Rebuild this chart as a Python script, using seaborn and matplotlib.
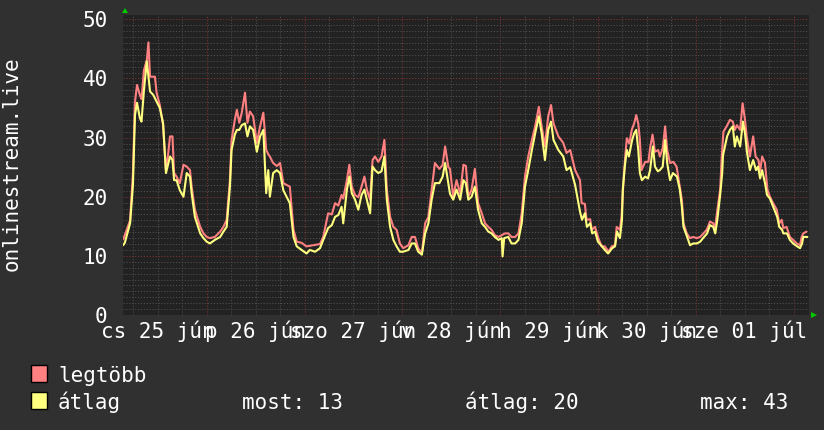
import numpy as np
import pandas as pd
import matplotlib
matplotlib.use("Agg")
import matplotlib.pyplot as plt
from matplotlib.patches import Rectangle, Polygon
from matplotlib.transforms import blended_transform_factory
import seaborn as sns

# ---- data (hours since 2020-06-25 00:00) ----
max_hours = [3.5, 3.9, 5.2, 5.9, 6.4, 6.9, 7.6, 8.0, 8.6, 9.3, 9.7, 10.1, 11.3, 11.7, 12.5, 13.3,
             14.0, 14.5, 15.0, 15.6, 16.0, 16.6, 17.4, 18.3, 19.1, 19.9, 20.3, 21.1, 22.4, 23.2,
             24.0, 24.8, 26.0, 27.3, 28.1, 28.9, 29.7, 30.1, 30.9, 31.4, 32.0, 32.6, 33.4, 34.0,
             34.6, 35.4, 36.3, 37.1, 37.9, 38.6, 39.1, 39.5, 40.3, 41.2, 42.0, 42.8, 43.6, 44.4,
             45.3, 46.1, 47.3, 48.5, 50.2, 51.8, 52.6, 53.8, 54.7, 55.5, 56.3, 57.1, 57.5, 58.4,
             59.0, 59.6, 60.4, 61.2, 62.0, 62.7, 63.3, 64.1, 64.7, 65.3, 66.1, 66.9, 67.6, 68.2,
             69.0, 69.8, 70.6, 71.4, 72.2, 73.5, 74.3, 75.1, 75.9, 76.8, 77.6, 78.4, 79.2, 80.0,
             81.1, 81.9, 82.5, 83.3, 83.7, 84.5, 85.3, 86.2, 87.0, 87.6, 88.2, 89.0, 89.8, 90.6,
             91.5, 92.3, 93.1, 93.9, 94.7, 95.6, 96.4, 97.2, 98.0, 98.8, 99.7, 100.5, 101.3, 102.1,
             102.9, 103.8, 104.6, 105.5, 106.2, 107.0, 107.8, 108.5, 109.1, 110.3, 111.5, 112.3,
             113.2, 114.4, 115.6, 116.0, 116.8, 117.2, 118.1, 118.5, 119.3, 120.1, 120.9, 121.7,
             122.6, 123.4, 124.2, 124.6, 125.4, 125.8, 126.2, 126.7, 127.1, 127.7, 128.3, 128.9,
             129.4, 129.9, 130.3, 130.7, 131.6, 132.4, 132.8, 133.4, 134.0, 134.8, 135.2, 135.9,
             136.5, 137.0, 137.7, 138.5, 139.3, 140.1, 140.6, 141.0, 141.8, 142.6, 143.4, 144.2,
             145.1, 145.9, 146.7, 147.5, 148.3, 148.7, 149.2, 150.0, 150.4, 150.8, 151.6, 152.4,
             153.1, 153.6, 154.1, 154.9, 155.5, 156.1, 156.5, 157.3, 158.1, 158.7, 159.4, 159.8,
             160.3, 161.0, 161.6, 162.2, 163.0, 163.9, 164.5, 165.1, 165.5, 166.3, 167.1, 167.9,
             168.8, 169.6, 170.0, 170.4, 171.2]
max_values = [12.8, 13.5, 16.0, 24.0, 36.0, 38.9, 37.2, 36.5, 41.4, 43.1, 46.1, 40.3, 40.3, 37.6, 35.5, 32.1,
              24.5, 27.0, 30.2, 30.2, 24.0, 23.4, 22.3, 25.4, 25.1, 24.5, 21.7, 17.8, 14.9, 13.8,
              13.2, 13.0, 13.2, 14.1, 14.9, 16.1, 22.8, 29.6, 33.0, 34.7, 32.5, 34.2, 37.6, 32.5,
              34.4, 33.6, 29.1, 31.9, 34.2, 27.9, 27.2, 26.8, 25.7, 25.2, 25.7, 22.3, 22.0, 21.7,
              14.4, 12.4, 12.2, 11.6, 11.8, 12.0, 13.2, 17.2, 17.0, 18.9, 18.5, 20.3, 19.7, 22.8,
              25.4, 21.7, 20.3, 19.9, 21.7, 23.4, 21.2, 19.5, 26.2, 26.8, 25.9, 26.8, 29.6, 21.2,
              16.6, 14.9, 14.4, 12.1, 11.3, 11.8, 13.2, 13.2, 11.3, 10.4, 15.5, 16.6, 21.2, 25.7,
              24.7, 25.4, 28.5, 25.0, 24.7, 20.0, 22.8, 20.5, 25.4, 25.2, 20.0, 21.2, 24.7, 18.9,
              17.2, 15.5, 14.9, 14.4, 13.5, 13.2, 13.5, 13.8, 13.8, 13.2, 13.2, 13.8, 17.2, 23.4,
              26.8, 29.6, 31.9, 35.2, 31.9, 28.5, 33.6, 35.5, 32.4, 30.2, 29.1, 27.4,
              27.9, 24.5, 22.8, 18.9, 18.8, 16.1, 16.2, 14.4, 14.9, 13.0, 11.6, 11.6,
              10.7, 11.6, 11.8, 14.9, 14.4, 16.6, 21.7, 26.8, 29.9, 29.0, 31.3, 32.4,
              33.8, 32.4, 29.6, 24.5, 25.9, 25.9, 28.2, 30.5, 27.6, 27.9, 26.8, 28.2,
              31.9, 27.9, 25.7, 25.9, 25.1, 21.7, 19.5, 15.5, 13.8, 13.0, 13.2, 13.0,
              13.2, 13.8, 14.4, 15.8, 15.5, 14.4, 17.2, 21.2, 26.8, 31.0, 31.9, 33.0,
              32.7, 31.3, 32.1, 31.3, 35.8, 33.0, 30.2, 26.8, 30.2, 26.8, 26.2, 24.3,
              26.8, 25.7, 21.2, 20.0, 18.9, 17.8, 15.5, 16.1, 14.7, 14.9, 13.2, 12.7,
              12.1, 11.8, 13.2, 13.8, 14.1]

avg_hours = [3.5, 3.9, 5.2, 5.9, 6.4, 6.9, 7.6, 8.0, 8.6, 9.3, 10.1, 10.9, 11.7, 12.5, 13.3, 14.0,
             15.0, 15.6, 16.0, 16.6, 17.4, 18.3, 19.1, 19.9, 20.3, 21.1, 22.4, 23.2, 24.0, 24.8,
             26.0, 27.3, 28.1, 28.9, 29.7, 30.1, 30.9, 31.4, 32.0, 32.6, 33.4, 34.0, 34.6, 35.4,
             36.3, 37.1, 37.9, 38.6, 39.1, 39.5, 40.3, 41.2, 42.0, 42.8, 43.6, 44.4, 45.3, 46.1,
             47.3, 48.5, 49.3, 50.6, 51.8, 52.6, 53.8, 54.7, 55.5, 56.3, 57.1, 57.5, 58.4, 59.0,
             59.6, 60.4, 61.2, 62.0, 62.7, 63.3, 64.1, 64.7, 65.3, 66.1, 66.9, 67.6, 68.2, 69.0,
             69.8, 70.6, 71.4, 72.2, 73.5, 74.3, 75.1, 75.9, 76.8, 77.6, 78.4, 79.2, 80.0, 81.1,
             81.9, 82.5, 83.3, 83.7, 84.5, 85.3, 86.2, 87.0, 87.6, 88.2, 89.0, 89.8, 90.6, 91.5,
             92.3, 93.1, 93.9, 94.7, 95.6, 96.4, 96.6, 97.0, 98.0, 98.8, 99.7, 100.5, 101.3, 102.1,
             102.9, 103.8, 104.6, 105.5, 106.2, 107.0, 107.8, 108.5, 109.1, 110.3, 111.5, 112.3,
             113.2, 114.4, 115.6, 116.1, 116.8, 117.3, 118.1, 118.6, 119.3, 120.0, 121.0, 121.7,
             122.5, 123.5, 124.2, 124.7, 125.4, 125.9, 126.1, 126.6, 127.1, 127.6, 128.4, 128.9,
             129.4, 129.9, 130.3, 130.8, 131.6, 132.3, 132.8, 133.5, 134.0, 134.7, 135.2, 135.9,
             136.5, 137.0, 137.7, 138.4, 139.4, 140.1, 140.6, 141.0, 141.9, 142.6, 143.4, 144.3,
             145.1, 145.8, 146.8, 147.5, 148.3, 148.8, 149.3, 150.0, 150.5, 150.7, 151.7, 152.4,
             153.1, 153.6, 154.1, 154.9, 155.6, 156.1, 156.6, 157.3, 158.1, 158.8, 159.3, 159.8,
             160.3, 161.0, 161.5, 162.2, 163.0, 164.0, 164.5, 165.2, 165.5, 166.4, 167.1, 167.9,
             168.9, 169.6, 170.1, 170.4, 171.4]
avg_values = [11.8, 12.2, 15.5, 22.0, 33.8, 35.9, 33.3, 32.7, 38.0, 42.9, 37.8, 37.2, 36.1, 35.0, 32.4, 24.0,
              26.8, 26.2, 22.8, 22.8, 21.1, 20.0, 24.0, 23.4, 20.6, 16.6, 13.8, 13.0, 12.4, 12.1,
              12.7, 13.2, 14.1, 14.9, 21.7, 27.9, 30.5, 31.3, 31.3, 32.1, 32.4, 30.2, 31.9, 31.3,
              27.6, 30.2, 31.3, 20.6, 24.5, 20.0, 24.0, 24.5, 24.0, 21.1, 20.0, 18.9, 13.2, 11.6,
              11.0, 10.4, 11.0, 10.7, 11.3, 12.7, 14.7, 15.2, 16.6, 16.9, 18.3, 15.5, 21.2, 23.4,
              20.6, 19.5, 17.8, 20.3, 21.2, 19.5, 17.2, 25.1, 24.5, 24.0, 24.3, 26.8, 19.5, 14.9,
              12.7, 11.6, 10.7, 10.7, 11.0, 12.1, 12.1, 10.7, 10.2, 13.8, 15.5, 19.5, 22.3, 22.3,
              23.4, 25.7, 22.3, 20.5, 19.5, 21.2, 19.5, 22.8, 22.3, 19.5, 20.0, 21.7, 17.8, 15.5,
              14.9, 14.1, 13.8, 13.2, 12.7, 13.0, 9.9, 13.0, 13.2, 12.1, 12.1, 12.7, 15.5, 21.7,
              24.5, 27.9, 30.7, 33.6, 30.7, 26.2, 31.3, 32.7, 29.6, 27.9, 26.8, 24.5,
              25.0, 22.0, 17.5, 16.1, 17.2, 14.9, 15.5, 13.8, 14.1, 12.4, 11.6, 11.0,
              10.4, 11.3, 11.6, 14.1, 13.0, 16.1, 21.2, 25.1, 27.9, 26.8, 29.6, 30.7,
              31.3, 27.9, 24.0, 22.8, 23.4, 23.1, 24.5, 28.5, 25.1, 24.3, 24.5, 25.1,
              29.6, 25.7, 22.8, 24.0, 23.4, 21.2, 18.3, 14.9, 13.2, 11.8, 12.1, 12.1,
              12.4, 13.0, 13.8, 15.2, 14.9, 13.8, 16.1, 20.3, 24.0, 27.0, 30.2, 31.3,
              31.9, 28.5, 30.2, 28.5, 32.7, 30.7, 27.4, 24.5, 26.2, 24.5, 25.1, 23.1,
              24.5, 22.3, 20.3, 19.7, 18.3, 16.6, 14.9, 14.4, 13.8, 13.8, 12.7, 12.1,
              11.6, 11.3, 12.1, 13.2, 13.2]

series_names = ["legtöbb", "átlag"]
series_colors = ["#ff8080", "#ffff80"]
day_labels = ["cs 25 jún", "p 26 jún", "szo 27 jún", "v 28 jún", "h 29 jún", "k 30 jún", "sze 01 júl"]
day_label_hours = [12, 36, 60, 84, 108, 132, 156]
y_ticks = [0, 10, 20, 30, 40, 50]
y_label = "onlinestream.live"
stats_labels = ["most: 13", "átlag: 20", "max: 43"]

# ---- style ----
W, H = 824, 430
sns.set_theme(style="dark")
plt.rcParams["font.family"] = ["DejaVu Sans Mono", "DejaVu Sans"]
BG = "#303030"
PLOT_BG = "#222222"
TXT = "#ffffff"
FS = 15

df = pd.concat([
    pd.DataFrame({"hours": max_hours, "value": max_values, "series": series_names[0]}),
    pd.DataFrame({"hours": avg_hours, "value": avg_values, "series": series_names[1]}),
], ignore_index=True)

fig = plt.figure(figsize=(W / 100, H / 100), dpi=100, facecolor=BG)
ax = fig.add_axes([123 / W, (H - 315) / H, 686 / W, 300 / H])
ax.set_facecolor(PLOT_BG)

x_min, x_max = 3.46, 171.8
ax.set_xlim(x_min, x_max)
ax.set_ylim(0, 50.73)

ax.set_xticks(np.arange(24, 169, 24))
ax.set_xticks(np.arange(6, 172, 6), minor=True)
ax.set_yticks(y_ticks)
ax.set_yticks(np.arange(1, 51, 1), minor=True)

dots = (0, (1.2, 1.8))
ax.grid(which="minor", color="#4e4e4e", linestyle=dots, linewidth=0.7)
ax.grid(which="major", color="#7a3434", linestyle=dots, linewidth=0.7)
ax.set_axisbelow(True)

sns.lineplot(data=df, x="hours", y="value", hue="series", hue_order=series_names,
             palette=dict(zip(series_names, series_colors)), estimator=None,
             linewidth=1.5, legend=False, ax=ax)

for s in ax.spines.values():
    s.set_visible(False)
ax.set_xlabel("")
ax.set_ylabel("")
ax.tick_params(axis="x", which="both", length=0, labelbottom=False)
ax.tick_params(axis="y", which="both", length=0, pad=11, labelcolor=TXT, labelsize=FS)
ax.set_yticklabels([str(v) for v in y_ticks])

trans = blended_transform_factory(ax.transData, ax.transAxes)
for h, lab in zip(day_label_hours, day_labels):
    ax.text(h, -(338 - 315) / 300, lab, transform=trans, ha="center", va="baseline",
            color=TXT, fontsize=FS, clip_on=False)

def fx(px):
    return px / W

def fy(py):
    return 1 - py / H

fig.text(fx(12), fy(164), y_label, rotation=90, ha="center", va="center", color=TXT, fontsize=FS)

# arrows
fig.add_artist(Polygon([(fx(122), fy(13)), (fx(128), fy(13)), (fx(125), fy(8))],
                       closed=True, transform=fig.transFigure, facecolor="#00cc00", edgecolor="none"))
fig.add_artist(Polygon([(fx(811), fy(312)), (fx(811), fy(318)), (fx(817), fy(315))],
                       closed=True, transform=fig.transFigure, facecolor="#00cc00", edgecolor="none"))

# legend
legend_rows = [(382, series_names[0], series_colors[0]), (409, series_names[1], series_colors[1])]
for base, name, col in legend_rows:
    fig.add_artist(Rectangle((fx(31), fy(base)), 16 / W, 17 / H, transform=fig.transFigure,
                             facecolor=col, edgecolor="black", linewidth=1))
    fig.text(fx(58), fy(base), name, ha="left", va="baseline", color=TXT, fontsize=FS)

for xp, lab in zip([242, 465, 700], stats_labels):
    fig.text(fx(xp), fy(409), lab, ha="left", va="baseline", color=TXT, fontsize=FS)

fig.savefig("out.png", dpi=100, facecolor=BG)
